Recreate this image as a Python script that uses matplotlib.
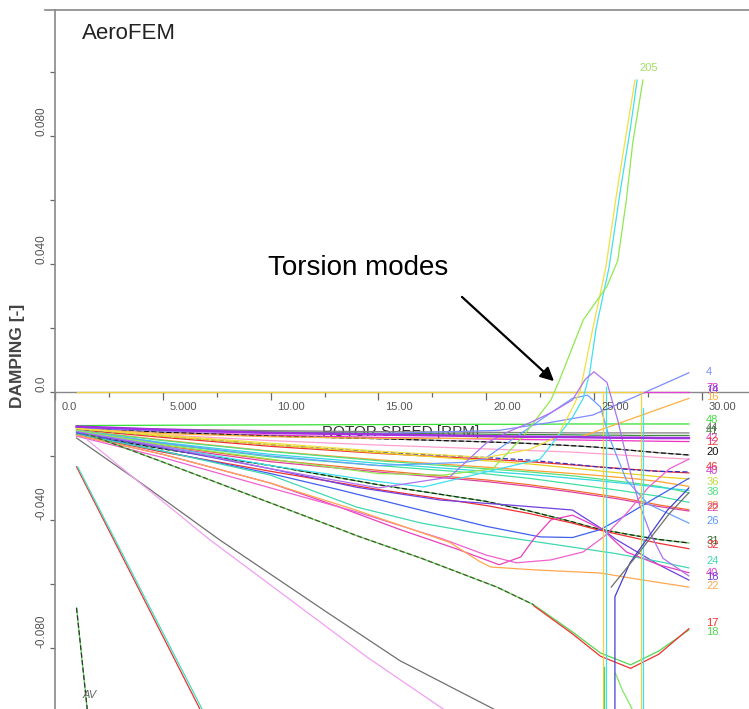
import numpy as np
import matplotlib
matplotlib.use("Agg")
import matplotlib.pyplot as plt
from matplotlib.lines import Line2D

plt.rcParams["font.family"] = ["Liberation Sans", "DejaVu Sans"]

# damping is kept in units of 1e-3 throughout
rpm = [1, 5, 10, 15, 20, 22, 24, 25, 26, 27, 28, 29.4]

m48 = [-10.5, -10.4, -10.3, -10.2, -10.1, -10.1, -10.0, -10.0, -10.0, -10.0, -10.0, -10.0]
m44 = [-11.0, -11.6, -12.1, -12.4, -12.6, -12.7, -12.8, -12.8, -12.8, -12.8, -12.8, -12.8]
m41 = [-11.2, -11.9, -12.5, -12.9, -13.2, -13.3, -13.4, -13.5, -13.5, -13.6, -13.6, -13.6]
m42 = [-10.8, -11.8, -12.8, -13.3, -13.8, -14.0, -14.1, -14.2, -14.3, -14.3, -14.4, -14.4]
m12 = [-11.3, -12.5, -13.5, -14.2, -14.7, -14.9, -15.0, -15.1, -15.2, -15.3, -15.4, -15.5]
m20 = [-11.0, -12.6, -13.8, -14.6, -15.6, -16.1, -16.8, -17.2, -17.8, -18.4, -19.0, -19.7]
m_pink = [-11.5, -13.4, -15.2, -16.6, -17.8, -18.3, -18.8, -19.2, -19.6, -20.0, -20.5, -21.0]
m46 = [-11.8, -14.2, -17.0, -19.2, -21.0, -21.8, -22.8, -23.3, -23.8, -24.3, -24.8, -25.3]
m40 = [-11.6, -13.8, -16.5, -18.8, -20.5, -21.3, -22.6, -23.3, -23.9, -24.4, -24.8, -25.0]
m36 = [-11.5, -13.8, -16.5, -19.0, -21.5, -22.5, -23.8, -24.5, -25.2, -25.8, -26.5, -27.2]
m_orange = [-12.0, -15.0, -18.5, -21.2, -23.5, -24.5, -25.5, -26.0, -26.6, -27.2, -28.0, -29.5]
m38 = [-12.0, -15.2, -18.6, -21.5, -24.0, -25.0, -26.2, -27.0, -27.8, -28.6, -29.5, -31.5]
m_cyan = [-12.2, -15.8, -19.5, -22.3, -24.8, -25.8, -27.0, -27.6, -28.3, -29.0, -29.8, -30.8]
m_mint = [-12.2, -16.2, -20.3, -23.0, -25.6, -27.0, -28.8, -29.7, -30.6, -31.6, -32.6, -34.5]
m28 = [-12.5, -16.8, -21.2, -24.5, -27.5, -29.0, -30.8, -31.8, -32.8, -34.0, -35.3, -36.8]
m22 = [-12.6, -17.2, -21.8, -25.0, -28.0, -29.5, -31.3, -32.3, -33.3, -34.5, -35.8, -37.2]
m31 = [-13.0, -17.8, -23.0, -29.0, -34.2, -37.2, -40.6, -42.5, -43.8, -45.0, -46.1, -47.2]
m32 = [-13.3, -18.8, -24.8, -30.5, -35.5, -38.0, -41.0, -42.8, -44.3, -45.8, -47.3, -49.0]

# torsion modes crossing zero
tors_purple_x = [1, 5, 10, 15, 18.3, 20, 21, 22, 23, 24, 24.6, 25, 25.6, 26.1, 26.6, 27.1, 27.6, 28.2, 29.4]
tors_purple_y = [-12.4, -17.0, -24.0, -30.0, -26.6, -16.0, -12.5, -9.7, -6.5, -2.5, 4.0, 6.3, 3.0, -8.8, -23.0, -35.0, -44.0, -52.0, -57.5]
tors_green_x = [1, 5, 10, 15, 18, 20.3, 21.7, 23, 23.4, 24.5, 25.6, 26.1, 26.5, 26.8, 27.27]
tors_green_y = [-12.0, -16.5, -21.0, -25.5, -26.0, -24.0, -14.0, -2.5, 3.7, 22.5, 33.0, 41.0, 60.0, 78.0, 97.5]
tors_cyan_x = [1, 5, 10, 15, 17.1, 20, 22.5, 24, 24.5, 24.8, 25.1, 25.7, 26.2, 26.7, 27.0]
tors_cyan_y = [-12.2, -17.0, -23.0, -28.0, -29.7, -25.0, -21.0, -8.0, -2.0, 6.0, 20.0, 39.0, 62.0, 83.0, 97.5]
tors_yellow_x = [1, 5, 10, 15, 20, 22, 23.3, 24.0, 24.35, 24.95, 25.55, 26.05, 26.55, 26.9]
tors_yellow_y = [-11.4, -13.5, -16.0, -18.5, -20.5, -18.0, -14.0, -5.0, 0.0, 20.0, 39.0, 62.0, 83.0, 97.5]

m26_x = [1, 5, 10, 15, 19, 19.9, 22.5, 24, 24.7, 25.3, 25.7, 26.5, 27.5, 29.4]
m26_y = [-12.0, -16.0, -20.0, -23.0, -22.0, -21.0, -8.8, -2.0, -1.0, -4.7, -14.0, -27.5, -35.0, -41.0]
m4_x = [1, 5, 10, 15, 20.6, 23, 24.95, 27, 29.4]
m4_y = [-11.2, -12.2, -12.8, -13.0, -12.0, -9.5, -7.2, -1.2, 6.0]
m16_x = [1, 5, 10, 15, 20, 24.4, 29.4]
m16_y = [-11.5, -13.0, -14.0, -14.5, -14.5, -14.0, -2.0]
zero_x = [1, 29.4]
zero_y = [0, 0]
m78_x = [27.3, 29.4]
m78_y = [0, 0]

lens_up_x = [1, 5, 10, 14, 17.9, 21, 24.0, 25.3, 26, 27, 28, 29.4]
lens_up_y = [-12.6, -17.5, -24.0, -29.8, -33.8, -35.3, -36.9, -42.5, -46.0, -50.0, -54.0, -58.8]
lens_lo_x = [1, 5, 10, 13.2, 17, 20, 22.5, 24, 25.3, 26.5, 28, 29.4]
lens_lo_y = [-12.8, -18.5, -25.5, -30.6, -37.0, -42.0, -45.3, -45.5, -43.0, -38.5, -32.5, -27.0]
m24_x = [1, 5, 10, 14, 17, 19.5, 21, 24, 26, 28, 29.4]
m24_y = [-13.2, -18.5, -26.0, -36.0, -41.0, -44.0, -45.5, -48.5, -50.5, -53.0, -55.0]
m40b_x = [1, 5, 10, 13.2, 16, 18.6, 20.6, 21.6, 22.2, 23, 24, 25.4, 26.5, 28, 29.4]
m40b_y = [-13.5, -19.5, -28.5, -36.0, -43.0, -49.0, -54.0, -51.6, -46.0, -40.0, -38.5, -43.0, -50.0, -54.0, -56.5]
mag2_x = [1, 5, 10, 14, 18, 20, 21.4, 23, 24.5, 25.5, 26.5, 27.5, 28.5, 29.4]
mag2_y = [-13.8, -20.5, -30.0, -37.5, -46.0, -51.0, -53.4, -52.5, -50.0, -45.0, -38.0, -30.0, -24.0, -21.0]
m22b_x = [1, 5, 10, 14, 18.3, 19.7, 20.2, 22.2, 25.3, 27, 29.4]
m22b_y = [-13.5, -19.5, -28.5, -37.0, -47.0, -53.0, -54.7, -55.6, -56.6, -58.5, -61.0]

m18_x = [1, 5, 10, 14.15, 17, 20.5, 22.2, 24, 25.3, 26.7, 28, 29.4]
m18_y = [-11.9, -21.9, -34.7, -45.3, -52.0, -61.0, -66.5, -75.0, -81.6, -85.3, -81.0, -74.4]
m17_x = [22.2, 24, 25.3, 26.7, 28, 29.4]
m17_y = [-66.8, -75.6, -82.6, -86.4, -82.0, -74.0]

# steep modes near the left edge
steep_gray_x = [1, 4, 7.65, 12.6, 16, 20.6]
steep_gray_y = [-14.4, -28.5, -46.3, -68.8, -84.0, -100.0]
steep_pink_x = [1.5, 7.2, 11.36, 14.5, 18.2]
steep_pink_y = [-15.0, -46.3, -67.2, -83.0, -100.0]
steep_red_x = [1, 6.75]
steep_red_y = [-23.4, -99.5]
steep_cyan_x = [1.05, 6.85]
steep_cyan_y = [-23.4, -99.5]
steep_green_x = [1, 1.5]
steep_green_y = [-67.5, -99.5]

# mode switching jumps near 25-27 rpm
jump_y1_x = [25.42, 25.42]
jump_y1_y = [-0.5, -99.5]
jump_c1_x = [25.55, 25.55]
jump_c1_y = [1.5, -99.5]
jump_y2_x = [27.2, 27.2]
jump_y2_y = [0.0, -99.5]
jump_c2_x = [27.28, 27.28]
jump_c2_y = [-5.0, -99.5]
jump_g1_x = [25.45, 25.45]
jump_g1_y = [-86.0, -99.5]
jump_g2_x = [26.0, 26.3, 26.8]
jump_g2_y = [-88.0, -93.0, -99.5]
jump_b_x = [25.97, 25.97, 26.67, 28.4, 29.4]
jump_b_y = [-99.5, -64.0, -53.4, -37.0, -30.0]
jump_k_x = [25.8, 27.0, 28.5, 29.4]
jump_k_y = [-61.0, -51.0, -38.0, -31.5]

mode_labels = ["4", "78", "14", "16", "48", "44", "41", "42", "12", "20", "46", "40",
               "36", "38", "28", "22", "26", "31", "32", "24", "40", "18", "22", "17", "18"]
mode_label_y = [6.25, 1.25, 0.6, -1.6, -8.75, -11.25, -12.2, -14.4, -15.6, -18.75, -23.4, -24.7,
                -28.1, -31.25, -35.6, -36.25, -40.3, -46.6, -47.8, -52.8, -56.6, -57.8, -60.6, -72.2, -75.0]
mode_label_col = ["#7a8cff", "#d030d0", "#8040e0", "#ffb040", "#40e040", "#606060", "#3c8c3c",
                  "#e040c0", "#f04040", "#111111", "#f03030", "#d040d0", "#c0d840", "#50e080",
                  "#f08030", "#e040a0", "#5a96ff", "#2e6a2e", "#f03030", "#40d8b0", "#e840c0",
                  "#7040e0", "#ffa850", "#f03030", "#50d850"]

xtick_vals = [0, 5, 10, 15, 20, 25, 30]
xtick_text = ["0.0", "5.000", "10.00", "15.00", "20.00", "25.00", "30.00"]
ytick_vals = [80, 40, 0, -40, -80]
ytick_text = ["0.080", "0.040", "0.0", "-0.040", "-0.080"]

fig = plt.figure(figsize=(7.49, 7.09), dpi=100)
ax = fig.add_axes([55 / 749, 0, 1 - 55 / 749, 699 / 709])
ax.set_xlim(0, 694 / 21.56)
ax.set_ylim(-99.1, 119.4)

lw = 0.9
curves = [
    (rpm, m48, "#33e033", "-"),
    (rpm, m44, "#808080", "-"),
    (rpm, m41, "#3c8c3c", "-"),
    (rpm, m12, "#f030c0", "-"),
    (rpm, m20, "#909090", "-"),
    (rpm, m20, "#111111", "--"),
    (rpm, m_pink, "#ff9fd0", "-"),
    (rpm, m46, "#f03030", "-"),
    (rpm, m40, "#3030c0", "--"),
    (rpm, m36, "#e8d020", "-"),
    (rpm, m_orange, "#ffa030", "-"),
    (rpm, m38, "#50e080", "-"),
    (rpm, m_cyan, "#30d8e0", "-"),
    (rpm, m_mint, "#40e0a0", "-"),
    (rpm, m28, "#f07030", "-"),
    (rpm, m22, "#e040a0", "-"),
    (rpm, m31, "#40c040", "-"),
    (rpm, m31, "#222222", "--"),
    (rpm, m32, "#f03030", "-"),
    (lens_up_x, lens_up_y, "#7040e0", "-"),
    (lens_lo_x, lens_lo_y, "#4060f0", "-"),
    (m24_x, m24_y, "#40d8b0", "-"),
    (m40b_x, m40b_y, "#e840c0", "-"),
    (mag2_x, mag2_y, "#f060d0", "-"),
    (m22b_x, m22b_y, "#ffa850", "-"),
    (m18_x, m18_y, "#50d850", "-"),
    (m18_x[:7], m18_y[:7], "#555533", "--"),
    (m17_x, m17_y, "#f03030", "-"),
    (m26_x, m26_y, "#6aa0ff", "-"),
    (m4_x, m4_y, "#7a8cff", "-"),
    (m16_x, m16_y, "#ffb040", "-"),
    (zero_x, zero_y, "#f0d040", "-"),
    (m78_x, m78_y, "#e040e0", "-"),
    (tors_yellow_x, tors_yellow_y, "#f0e040", "-"),
    (tors_cyan_x, tors_cyan_y, "#40e0f0", "-"),
    (tors_green_x, tors_green_y, "#90e850", "-"),
    (tors_purple_x, tors_purple_y, "#b070f0", "-"),
    (steep_gray_x, steep_gray_y, "#707070", "-"),
    (steep_pink_x, steep_pink_y, "#f0a0f0", "-"),
    (steep_red_x, steep_red_y, "#f03030", "-"),
    (steep_cyan_x, steep_cyan_y, "#40e0c0", "-"),
    (steep_green_x, steep_green_y, "#50d850", "-"),
    (steep_green_x, steep_green_y, "#333333", "--"),
    (jump_y1_x, jump_y1_y, "#f0d040", "-"),
    (jump_c1_x, jump_c1_y, "#40e0f0", "-"),
    (jump_y2_x, jump_y2_y, "#f0d040", "-"),
    (jump_c2_x, jump_c2_y, "#40e0f0", "-"),
    (jump_g1_x, jump_g1_y, "#50d850", "-"),
    (jump_g2_x, jump_g2_y, "#80e860", "-"),
    (jump_b_x, jump_b_y, "#4040d0", "-"),
    (jump_k_x, jump_k_y, "#707070", "-"),
]
for xs, ys, col, ls in curves:
    ax.plot(xs, ys, color=col, ls=ls, lw=lw, zorder=3, dashes=(4, 2) if ls == "--" else (None, None))
# thicker purple band
ax.plot(rpm, m42, color="#a030e0", lw=1.8, zorder=3)

for s, y, c in zip(mode_labels, mode_label_y, mode_label_col):
    ax.text(30.2, y, s, color=c, fontsize=8, ha="left", va="center", zorder=4)
ax.text(27.13, 101.25, "205", color="#a0e060", fontsize=8, ha="left", va="center")

# axes styling
for side in ["right", "top"]:
    ax.spines[side].set_visible(False)
ax.spines["left"].set_color("#888888")
ax.spines["left"].set_linewidth(1.2)
ax.spines["bottom"].set_position(("data", 0))
ax.spines["bottom"].set_color("#888888")
ax.spines["bottom"].set_linewidth(1.0)
ax.spines["bottom"].set_zorder(2)
fig.add_artist(Line2D([45 / 749, 1], [1 - 10 / 709, 1 - 10 / 709], color="#888888", lw=1.2))

ax.set_xticks(xtick_vals)
ax.set_xticks(np.arange(2.5, 30, 5), minor=True)
ax.set_yticks(np.arange(-80, 101, 20))
ax.tick_params(axis="x", which="major", direction="out", length=5.8, width=0.9, color="#666666", labelbottom=False)
ax.tick_params(axis="x", which="minor", direction="out", length=3.6, width=0.9, color="#666666")
ax.tick_params(axis="y", direction="out", length=3.6, width=0.9, color="#666666", labelleft=False)

for v, s in zip(xtick_vals, xtick_text):
    ax.annotate(s, xy=(v, 0), xytext=(5, -10.8), textcoords="offset points",
                ha="left", va="center", fontsize=8, color="#555555")
for v, s in zip(ytick_vals, ytick_text):
    ax.annotate(s, xy=(0, v), xycoords=("axes fraction", "data"), xytext=(-10, 0),
                textcoords="offset points", rotation=90, rotation_mode="anchor",
                ha="left", va="center", fontsize=8.5, color="#555555")

ax.text(12.4, -12.5, "ROTOR SPEED [RPM]", fontsize=11, color="#333333", ha="left", va="center", zorder=1)
fig.text(18 / 749, 1 - 356 / 709, "DAMPING [-]", rotation=90, fontsize=12.5, fontweight="bold",
         color="#444444", ha="center", va="center")
ax.text(1.25, 112.2, "AeroFEM", fontsize=16, color="#222222", ha="left", va="center")
ax.text(1.3, -94.7, "AV", fontsize=8, style="italic", color="#666666", ha="left", va="center")

ax.text(9.88, 36.6, "Torsion modes", fontsize=20, color="black", ha="left", va="baseline")
ax.annotate("", xy=(23.24, 2.8), xytext=(18.78, 30.3),
            arrowprops=dict(arrowstyle="-|>", color="black", lw=1.6, mutation_scale=20))

fig.savefig("out.png", dpi=100)
